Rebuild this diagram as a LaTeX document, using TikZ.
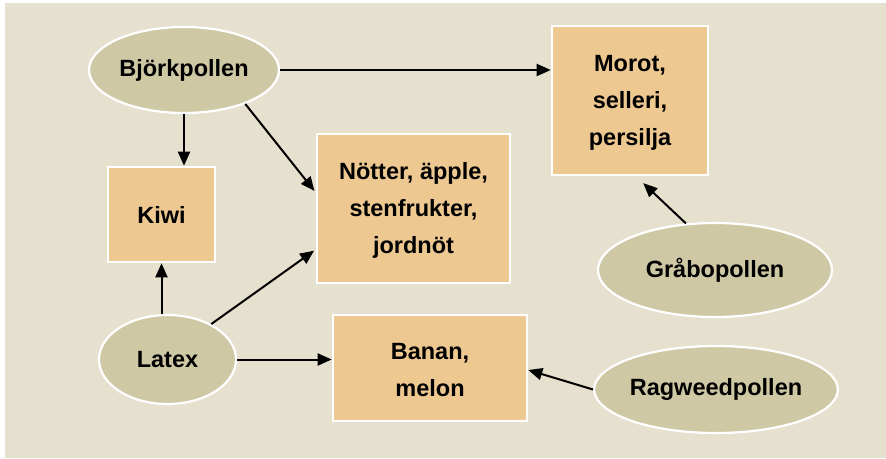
\documentclass[tikz,border=0pt]{standalone}
\usepackage{fontspec}
\setmainfont{Liberation Sans}
\usetikzlibrary{shapes.geometric,arrows.meta}

\definecolor{bgbeige}{RGB}{230,224,207}
\definecolor{pollenfill}{RGB}{207,200,165}
\definecolor{foodfill}{RGB}{237,200,145}

\tikzset{
  allergen/.style={ellipse, draw=white, line width=2.2pt, fill=pollenfill,
    inner sep=0pt, font=\bfseries\fontsize{23.5}{37}\selectfont},
  food/.style={rectangle, draw=white, line width=2.6pt, fill=foodfill,
    inner sep=0pt, align=center, font=\bfseries\fontsize{23.5}{37}\selectfont},
  arr/.style={line width=2pt, -{Triangle[length=14pt,width=12pt]}}
}

\begin{document}
\begin{tikzpicture}[x=1pt, y=-1pt]
  \useasboundingbox (0,0) rectangle (886,458);
  \fill[bgbeige] (5,3) rectangle (886,458);

  % pollen and latex sources
  \node[allergen, minimum width=190pt, minimum height=86pt] (bjork) at (184,70) {Björkpollen};
  \node[allergen, minimum width=137pt, minimum height=89pt] (latex) at (167.5,359.5) {Latex};
  \node[allergen, minimum width=234pt, minimum height=94pt] (grabo) at (715,270) {Gråbopollen};
  \node[allergen, minimum width=232pt, minimum height=87pt] (ragweed) at (716,389.5) {Ragweedpollen};

  % cross-reacting foods
  \node[food, minimum width=107pt, minimum height=95pt] (kiwi) at (161.5,214.5) {Kiwi};
  \node[food, minimum width=193pt, minimum height=149pt] (notter) at (413.5,208.5) {\rule{0pt}{20pt}Nötter, äpple,\\stenfrukter,\\jordnöt};
  \node[food, minimum width=156pt, minimum height=149pt] (morot) at (630,100.5) {\rule{0pt}{20pt}Morot,\\selleri,\\persilja};
  \node[food, minimum width=194pt, minimum height=106pt] (banan) at (430,368) {\rule{0pt}{20pt}Banan,\\melon};

  % connections
  \draw[arr] (bjork.east) -- (bjork.east -| morot.west);
  \draw[arr] (bjork.south) -- (bjork.south |- kiwi.north);
  \draw[arr, shorten >=2pt] (bjork.-29) -- ([yshift=16pt]notter.west);
  \draw[arr] (kiwi.south |- latex.north) -- (kiwi.south);
  \draw[arr, shorten >=2pt] (latex.39) -- ([yshift=-41pt]notter.west);
  \draw[arr] (latex.east) -- (latex.east -| banan.west);
  \draw[arr, shorten >=10pt] (grabo.122) -- ([xshift=6pt]morot.south);
  \draw[arr] (ragweed.west) -- ([yshift=-2pt]banan.east);
\end{tikzpicture}
\end{document}
